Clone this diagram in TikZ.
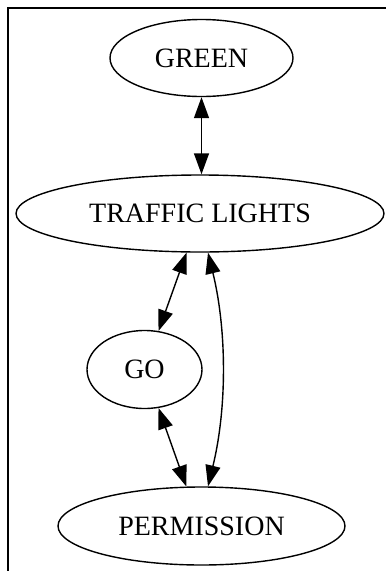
\documentclass[tikz,border=0pt]{standalone}
\usepackage{fontspec}
\setmainfont{Liberation Serif}
\usetikzlibrary{shapes.geometric,arrows.meta}
\tikzset{
  state/.style={ellipse, draw, line width=1.4pt, inner sep=0pt,
    font=\fontsize{28}{34}\selectfont},
  link/.style={line width=1.4pt,
    {Triangle[length=21pt,width=15pt]}-{Triangle[length=21pt,width=15pt]}},
  frame/.style={line width=1.4pt}
}
\begin{document}
\begin{tikzpicture}[x=1pt,y=-1pt]
\useasboundingbox (0,0) rectangle (386,571);
\draw[frame] (8,575) -- (8,8) -- (390,8);
\node[state, minimum width=183pt, minimum height=77pt] (green) at (201.5,58) {GREEN};
\node[state, minimum width=368pt, minimum height=77pt] (tl) at (200,213.5) {TRAFFIC LIGHTS};
\node[state, minimum width=115pt, minimum height=78pt] (go) at (144.5,369.5) {GO};
\node[state, minimum width=287pt, minimum height=78pt] (perm) at (201.5,526) {PERMISSION};
\draw[link] (green.south) -- (green.south |- tl.north);
\draw[link] (tl.-109) -- (go.70);
\draw[link] (go.-70) -- (perm.111);
\draw[link] ([xshift=8pt]tl.south) .. controls +(19,78) and +(19,-78) .. ([xshift=6.5pt]perm.north);
\end{tikzpicture}
\end{document}
